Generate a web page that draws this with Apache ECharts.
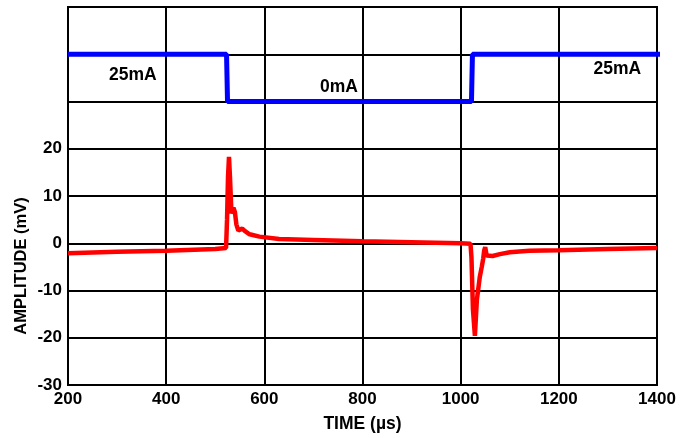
<!DOCTYPE html>
<html><head><meta charset="utf-8">
<script src="https://cdn.jsdelivr.net/npm/echarts@6/dist/echarts.min.js"></script>
<style>html,body{margin:0;padding:0;background:#fff}#c{width:690px;height:438px}</style>
</head><body><div id="c"></div>
<script>
// Current step (offset display): [time µs, display level]
const currentTime = [200, 523, 525, 1022, 1024, 1410];
const currentLevel = [40, 40, 30, 30, 40, 40];
// Amplitude trace (mV)
const ampTime = [200, 300, 400, 500, 522, 524, 526, 528, 530, 533, 537, 540, 543, 547, 550, 555, 560, 570, 590, 630, 700, 800, 900, 1000, 1020, 1022, 1025, 1029, 1033, 1039, 1043, 1046, 1048, 1050, 1053, 1056, 1065, 1080, 1100, 1140, 1200, 1300, 1400];
const ampValue = [-2.1, -1.8, -1.6, -1.2, -1.0, 5, 14, 18.3, 14, 6.3, 7.5, 6.6, 4, 2.7, 2.8, 3.1, 2.6, 1.9, 1.4, 0.9, 0.7, 0.4, 0.2, 0.0, -0.1, -3, -14, -19.6, -12, -7.1, -5, -3.2, -1.5, -0.8, -2.6, -3.0, -2.7, -2.3, -1.9, -1.6, -1.5, -1.2, -1.0];
// Annotation labels
const noteText = ['25mA', '0mA', '25mA'];
const notePos = [[332, 35.5], [752, 33.1], [1319, 36.9]];
const xTicks = [200, 400, 600, 800, 1000, 1200, 1400];
const yTicks = [-30, -20, -10, 0, 10, 20];
const yTitle = 'AMPLITUDE (mV)';

const font = '"Liberation Sans", Arial, sans-serif';
const chart = echarts.init(document.getElementById('c'));
chart.setOption({
  animation: false,
  backgroundColor: '#fff',
  grid: {left: 68, right: 33, top: 7, bottom: 53, show: true, borderColor: '#000', borderWidth: 2, backgroundColor: 'transparent'},
  xAxis: {
    type: 'value', min: 200, max: 1400, interval: 200,
    name: 'TIME (µs)', nameLocation: 'middle', nameGap: 30,
    nameTextStyle: {fontFamily: font, fontWeight: 'bold', fontSize: 17.5, color: '#000'},
    axisLine: {lineStyle: {color: '#000', width: 2}},
    axisTick: {show: false},
    axisLabel: {fontFamily: font, fontWeight: 'bold', fontSize: 17, color: '#000', margin: 6,
      formatter: v => xTicks.includes(v) ? String(v) : ''},
    splitLine: {lineStyle: {color: '#000', width: 2}}
  },
  yAxis: {
    type: 'value', min: -30, max: 50, interval: 10,
    axisLine: {lineStyle: {color: '#000', width: 2}},
    axisTick: {show: false},
    axisLabel: {fontFamily: font, fontWeight: 'bold', fontSize: 17, color: '#000', margin: 6,
      formatter: v => yTicks.includes(v) ? String(v) : ''},
    splitLine: {lineStyle: {color: '#000', width: 2}}
  },
  graphic: [{
    type: 'text', x: 21, y: 266, rotation: Math.PI / 2,
    style: {text: yTitle, fontFamily: font, fontWeight: 'bold', fontSize: 16.5, fill: '#000', align: 'center', verticalAlign: 'middle'}
  }],
  series: [
    {type: 'line', data: currentTime.map((t, i) => [t, currentLevel[i]]), symbol: 'none',
      lineStyle: {color: '#0000ff', width: 5}, z: 3, clip: false},
    {type: 'line', data: ampTime.map((t, i) => [t, ampValue[i]]), symbol: 'none',
      lineStyle: {color: '#ff0000', width: 4.5}, z: 4},
    {type: 'scatter', data: notePos.map((p, i) => ({value: p, name: noteText[i]})), symbolSize: 0,
      itemStyle: {opacity: 1, color: 'rgba(0,0,0,0)'},
      label: {show: true, position: 'inside', formatter: p => p.name, fontFamily: font, fontWeight: 'bold', fontSize: 17.5, color: '#000', opacity: 1, textBorderWidth: 0}, z: 5}
  ]
});
</script></body></html>
